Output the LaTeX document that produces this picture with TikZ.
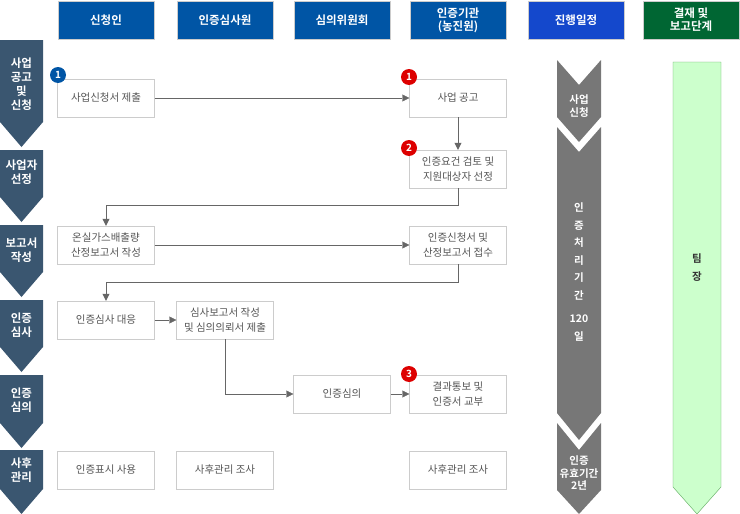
\documentclass[tikz,border=0pt]{standalone}
\usepackage{fontspec}
\setmainfont{Noto Sans CJK KR}[BoldFont={Noto Sans CJK KR Bold}]
\usetikzlibrary{arrows.meta}
\definecolor{hdblue}{HTML}{0055A5}
\definecolor{hdsched}{HTML}{1448CC}
\definecolor{hdgreen}{HTML}{006633}
\definecolor{stage}{HTML}{3A5670}
\definecolor{boxline}{HTML}{CCCCCC}
\definecolor{txtgray}{HTML}{555555}
\definecolor{flow}{HTML}{666666}
\definecolor{badgered}{HTML}{DD0000}
\definecolor{sched}{HTML}{777777}
\tikzset{
  header/.style={fill=#1, draw=boxline, minimum width=96pt, minimum height=38pt,
    text=white, font=\fontsize{11.5}{13}\selectfont\bfseries, align=center, inner sep=0pt},
  stepbox/.style={draw=boxline, fill=white, minimum width=97pt, minimum height=38pt,
    text=txtgray, font=\fontsize{10.5}{15}\selectfont, align=center, inner sep=0pt},
  badge/.style={circle, fill=#1, minimum size=16pt, inner sep=0pt, text=white,
    font=\fontsize{10}{10}\selectfont\bfseries},
  stagetxt/.style={text=white, font=\fontsize{11.5}{14}\selectfont\bfseries, align=center},
  flowline/.style={flow, -{Triangle[length=7pt,width=7pt]}}
}
\begin{document}
\begin{tikzpicture}[x=1pt,y=-1pt]
  \useasboundingbox (0,0) rectangle (740,514);

  %Headers
  \node[header=hdblue] (hApp) at (106,20) {신청인};
  \node[header=hdblue] (hAud) at (225,20) {인증심사원};
  \node[header=hdblue] (hCom) at (342,20) {심의위원회};
  \node[header=hdblue] (hOrg) at (458,20) {인증기관\\(농진원)};
  \node[header=hdsched] (hSch) at (576,20) {진행일정};
  \node[header=hdgreen] (hApr) at (691,20) {결재 및\\보고단계};

  %Stages (left)
  \fill[stage] (0,40) -- (43,40) -- (43,122) -- (21.5,147) -- (0,122) -- cycle;
  \fill[stage] (0,150) -- (43,150) -- (43,197) -- (21.5,222) -- (0,197) -- cycle;
  \fill[stage] (0,225) -- (43,225) -- (43,272) -- (21.5,297) -- (0,272) -- cycle;
  \fill[stage] (0,300) -- (43,300) -- (43,347) -- (21.5,372) -- (0,347) -- cycle;
  \fill[stage] (0,375) -- (43,375) -- (43,423) -- (21.5,448) -- (0,423) -- cycle;
  \fill[stage] (0,450) -- (43,450) -- (43,489) -- (21.5,514) -- (0,489) -- cycle;
  \node[stagetxt] (s1) at (21.5,84) {사업\\공고\\및\\신청};
  \node[stagetxt] (s2) at (21.5,172) {사업자\\선정};
  \node[stagetxt] (s3) at (21.5,250) {보고서\\작성};
  \node[stagetxt] (s4) at (21.5,325) {인증\\심사};
  \node[stagetxt] (s5) at (21.5,400) {인증\\심의};
  \node[stagetxt] (s6) at (21.5,470) {사후\\관리};

  %Schedule (gray chevrons)
  \fill[sched] (557,60) -- (579,85) -- (601,60) -- (601,117) -- (579,142) -- (557,117) -- cycle;
  \fill[sched] (557,127) -- (579,152) -- (601,127) -- (601,413) -- (579,440) -- (557,413) -- cycle;
  \fill[sched] (557,423) -- (579,450) -- (601,423) -- (601,490) -- (579,514) -- (557,490) -- cycle;
  \node[stagetxt, font=\fontsize{10.5}{12.5}\selectfont\bfseries] (t1) at (579,106) {사업\\신청};
  \node[stagetxt, font=\fontsize{10.5}{17.5}\selectfont\bfseries] (t2) at (579,272) {인\\증\\처\\리\\기\\간\\[6pt]120\\일};
  \node[stagetxt, font=\fontsize{10.5}{12.5}\selectfont\bfseries] (t3) at (579,473) {인증\\유효기간\\2년};

  %Approval (green)
  \filldraw[fill=green!20, draw=green!30!gray] (673,62) -- (721,62) -- (721,487) -- (697,514) -- (673,487) -- cycle;
  \node[stagetxt, text=black!80, font=\fontsize{10.5}{18}\selectfont\bfseries] (g1) at (697,268) {팀\\장};

  %Steps
  \node[stepbox] (apply) at (106,98) {사업신청서 제출};
  \node[stepbox] (notice) at (458,98) {사업 공고};
  \node[stepbox] (select) at (458,169) {인증요건 검토 및\\지원대상자 선정};
  \node[stepbox] (report) at (106,245) {온실가스배출량\\산정보고서 작성};
  \node[stepbox] (receive) at (458,245) {인증신청서 및\\산정보고서 접수};
  \node[stepbox] (respond) at (106,320) {인증심사 대응};
  \node[stepbox] (audit) at (225,320) {심사보고서 작성\\및 심의의뢰서 제출};
  \node[stepbox] (review) at (342,394) {인증심의};
  \node[stepbox] (issue) at (458,394) {결과통보 및\\인증서 교부};
  \node[stepbox] (use) at (106,470) {인증표시 사용};
  \node[stepbox] (post1) at (225,470) {사후관리 조사};
  \node[stepbox] (post2) at (458,470) {사후관리 조사};

  %Badges
  \node[badge=hdblue] (b1) at (58,75) {1};
  \node[badge=badgered] (b2) at (409,77) {1};
  \node[badge=badgered] (b3) at (409,148) {2};
  \node[badge=badgered] (b4) at (409,374) {3};

  %Flow
  \draw[flowline] (apply) -- (notice);
  \draw[flowline] (notice) -- (select);
  \draw[flowline] (select.south) |- (106,205) -- (report.north);
  \draw[flowline] (report) -- (receive);
  \draw[flowline] (receive.south) |- (106,282) -- (respond.north);
  \draw[flowline] (respond) -- (audit);
  \draw[flowline] (audit.south) |- (review.west);
  \draw[flowline] (review) -- (issue);
\end{tikzpicture}
\end{document}
